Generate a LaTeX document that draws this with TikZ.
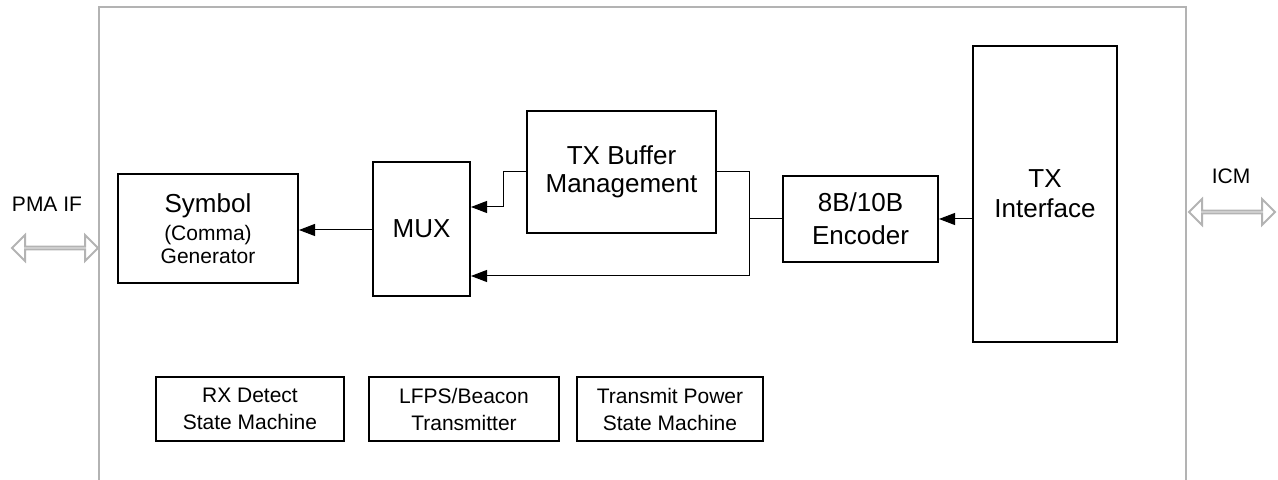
\documentclass[tikz,border=0pt]{standalone}
\usepackage{fontspec}
\setmainfont{Liberation Sans}
\usetikzlibrary{positioning,arrows.meta,shapes.arrows}
\definecolor{frm}{HTML}{B3B3B3}

\begin{document}
\begin{tikzpicture}[x=0.5pt, y=-0.5pt, font=\fontsize{13}{14}\selectfont,
  blk/.style={draw, line width=1pt, align=center, inner sep=1pt},
  small/.style={blk, minimum height=32pt, font=\fontsize{10.5}{13.5}\selectfont},
  lab/.style={font=\fontsize{10.5}{12}\selectfont},
  wire/.style={line width=0.5pt},
  arr/.style={wire, -{Triangle[length=8pt, width=6pt]}},
  port/.style={draw=frm, line width=1pt, shape=double arrow, double arrow head extend=4pt,
    minimum height=43pt, minimum width=13pt, inner sep=0pt}]
\useasboundingbox (0,0) rectangle (1278,480);
% frame
\draw[frm, line width=1pt] (99,481) |- (1186,7) -- (1186,481);
% main path
\node[blk, minimum width=90pt, minimum height=54.5pt] (sym) at (208,228.5)
  {Symbol\\[0pt]{\fontsize{10.5}{12}\selectfont (Comma)}\\[-2.5pt]{\fontsize{10.5}{12}\selectfont Generator}};
\node[blk, minimum width=48.5pt, minimum height=67pt] (mux) at (421.5,229) {MUX};
\node[blk, minimum width=94.5pt, minimum height=61pt] (buf) at (621.5,172) {TX Buffer\\Management};
\node[blk, minimum width=77.5pt, minimum height=43pt] (enc) at (860.5,219) {8B/10B\\[2.5pt]Encoder};
\node[blk, minimum width=72pt, minimum height=148pt] (txif) at (1045,194) {TX\\[1pt]Interface};
% state machines
\node[small, minimum width=94pt] (rxd) at (250,409) {RX Detect\\State Machine};
\node[small, minimum width=95pt] (lfps) at (464,409) {LFPS/Beacon\\Transmitter};
\node[small, minimum width=93pt] (tpw) at (670,409) {Transmit Power\\State Machine};
% ports
\node[port] (pma) at (55,248) {};
\node[lab] (pmal) at (47,204) {PMA IF};
\node[port] (icm) at (1232,212) {};
\node[lab] (icml) at (1231,176) {ICM};
% connectors
\coordinate (bufl) at (503,207);
\coordinate (loop) at (749,276);
\coordinate (tap) at (749,219);
\draw[arr] (mux.west |- 0,230) -- (sym.east |- 0,230);
\draw[arr] (buf.west) -| (bufl) -- (bufl -| mux.east);
\draw[arr] (buf.east) -| (loop) -- (loop -| mux.east);
\draw[wire] (tap) -- (tap -| enc.west);
\draw[arr] (txif.west |- enc.east) -- (enc.east);
\end{tikzpicture}
\end{document}
